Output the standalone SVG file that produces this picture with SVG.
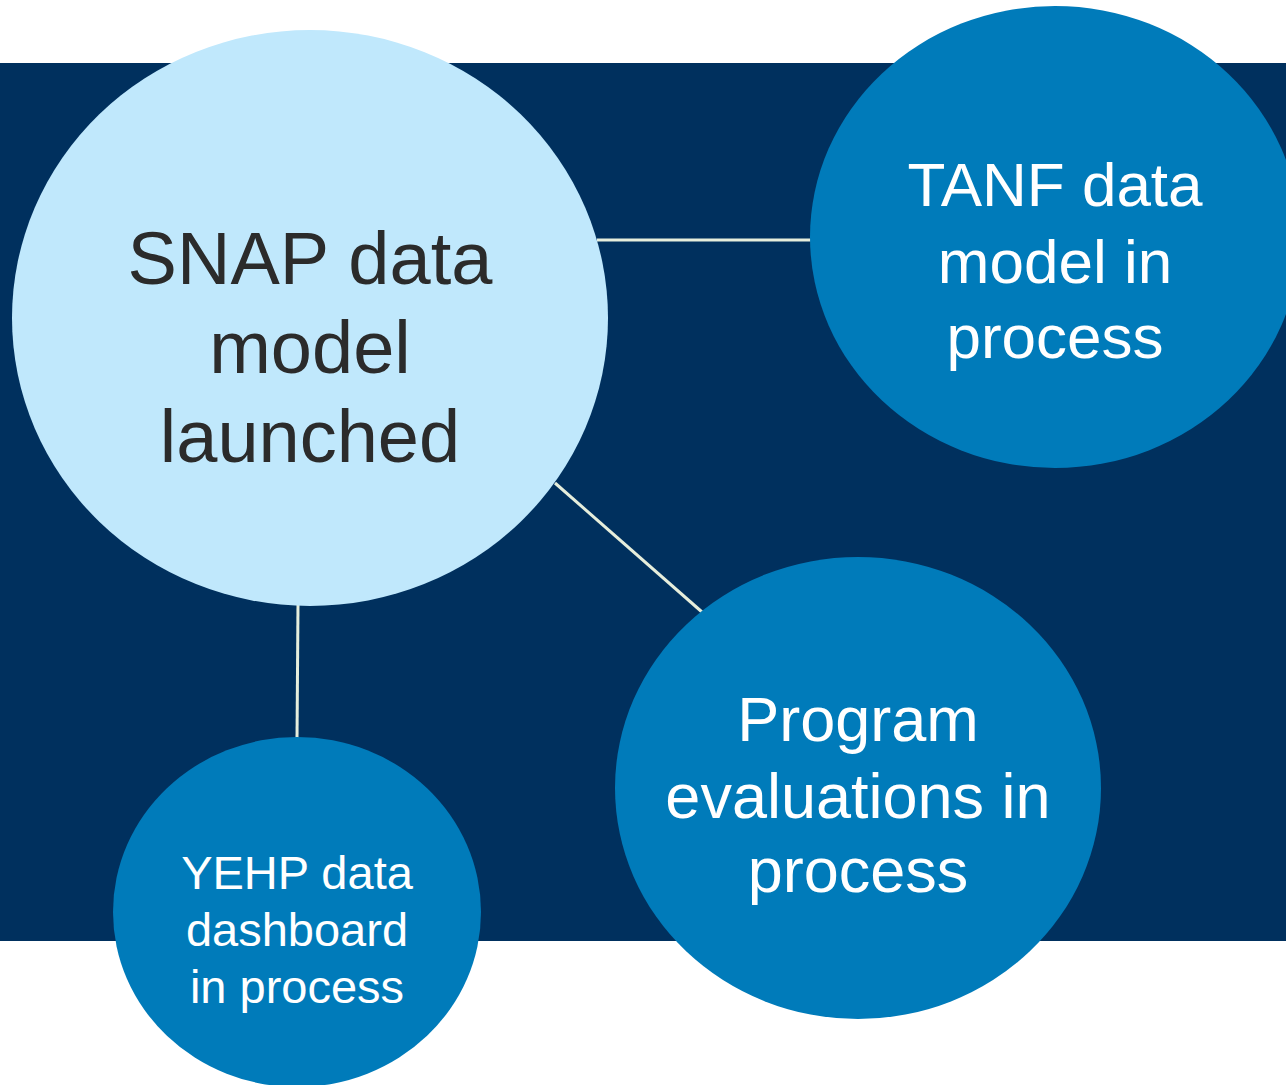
<svg xmlns="http://www.w3.org/2000/svg" width="1286" height="1085" viewBox="0 0 1286 1085">
<style>
.lbl{font-family:"Liberation Sans",Arial,sans-serif;text-anchor:middle}
.light{fill:#C0E8FC}
.mid{fill:#007BBA}
.conn{stroke:#E6EEDC;stroke-width:3;fill:none}
</style>
<rect x="0" y="0" width="1286" height="1085" fill="#FFFFFF"/>
<rect x="0" y="63" width="1286" height="878" fill="#00305E"/>
<g id="connectors">
<line class="conn" x1="597" y1="240" x2="812" y2="240"/>
<line class="conn" x1="555" y1="483" x2="702" y2="612"/>
<line class="conn" x1="298" y1="604" x2="297" y2="739"/>
</g>
<g id="snap">
<ellipse class="light" cx="310" cy="318" rx="298" ry="288"/>
<text class="lbl" font-size="74" fill="#2B2B2B"><tspan x="310" y="284">SNAP data</tspan><tspan x="310" y="373">model</tspan><tspan x="310" y="462">launched</tspan></text>
</g>
<g id="tanf">
<ellipse class="mid" cx="1055" cy="237" rx="245" ry="231"/>
<text class="lbl" font-size="62" fill="#FFFFFF"><tspan x="1055" y="206">TANF data</tspan><tspan x="1055" y="283">model in</tspan><tspan x="1055" y="358">process</tspan></text>
</g>
<g id="program">
<ellipse class="mid" cx="858" cy="788" rx="243" ry="231"/>
<text class="lbl" font-size="63" fill="#FFFFFF"><tspan x="858" y="741">Program</tspan><tspan x="858" y="818">evaluations in</tspan><tspan x="858" y="892">process</tspan></text>
</g>
<g id="yehp">
<ellipse class="mid" cx="297" cy="912" rx="184" ry="175"/>
<text class="lbl" font-size="47" fill="#FFFFFF"><tspan x="297" y="889">YEHP data</tspan><tspan x="297" y="946">dashboard</tspan><tspan x="297" y="1003">in process</tspan></text>
</g>
</svg>
